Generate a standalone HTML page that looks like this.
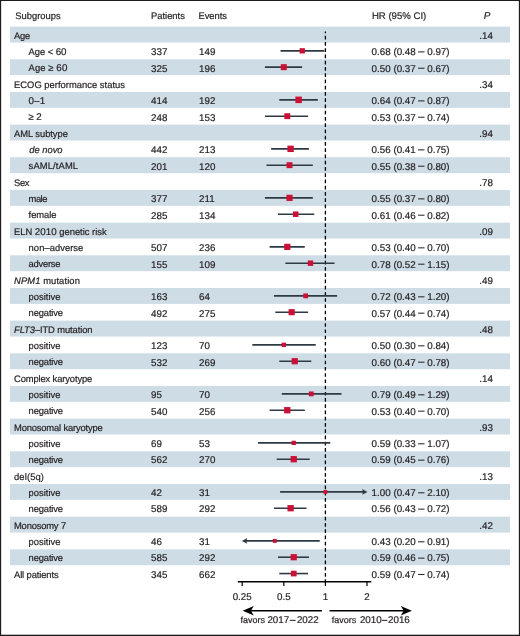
<!DOCTYPE html>
<html><head><meta charset="utf-8"><style>
html,body{margin:0;padding:0;background:#fff;}
svg{display:block;will-change:transform;}
text{text-rendering:geometricPrecision;font-family:"Liberation Sans",sans-serif;font-size:9.4px;fill:#231f20;stroke:#231f20;stroke-width:0.2px;}
text.n,tspan.n{font-size:9.8px;}
</style></head><body>
<svg width="520" height="636" viewBox="0 0 520 636">
<rect x="0" y="0" width="520" height="636" fill="#fff"/>

<rect x='10' y='26.60' width='500' height='15.9' fill='#cedce6'/>
<rect x='10' y='59.27' width='500' height='15.9' fill='#cedce6'/>
<rect x='10' y='91.94' width='500' height='15.9' fill='#cedce6'/>
<rect x='10' y='124.61' width='500' height='15.9' fill='#cedce6'/>
<rect x='10' y='157.28' width='500' height='15.9' fill='#cedce6'/>
<rect x='10' y='189.95' width='500' height='15.9' fill='#cedce6'/>
<rect x='10' y='222.62' width='500' height='15.9' fill='#cedce6'/>
<rect x='10' y='255.29' width='500' height='15.9' fill='#cedce6'/>
<rect x='10' y='287.96' width='500' height='15.9' fill='#cedce6'/>
<rect x='10' y='320.63' width='500' height='15.9' fill='#cedce6'/>
<rect x='10' y='353.30' width='500' height='15.9' fill='#cedce6'/>
<rect x='10' y='385.97' width='500' height='15.9' fill='#cedce6'/>
<rect x='10' y='418.64' width='500' height='15.9' fill='#cedce6'/>
<rect x='10' y='451.31' width='500' height='15.9' fill='#cedce6'/>
<rect x='10' y='483.98' width='500' height='15.9' fill='#cedce6'/>
<rect x='10' y='516.65' width='500' height='15.9' fill='#cedce6'/>
<rect x='10' y='549.32' width='500' height='15.9' fill='#cedce6'/>
<text x='15.3' y='18.55'>Subgroups</text>
<text x='151.0' y='18.55'>Patients</text>
<text x='198.4' y='18.55'>Events</text>
<text x='371.90000000000003' y='18.55' style='font-size:9.6px'>HR (95% CI)</text>
<text x='483.8' y='18.55' font-style='italic' style='font-size:9.9px'>P</text>
<line x1='325.4' y1='31.5' x2='325.4' y2='581' stroke='#000' stroke-width='1.3' stroke-dasharray='3.7 2.547' stroke-dashoffset='1.95'/>
<text class='lb' x='14.0' y='38.61' textLength='16.19' lengthAdjust='spacing'>Age</text>
<text class='n' x='479.3' y='38.91'>.14</text>
<text class='lb' x='28.6' y='54.94' textLength='37.88' lengthAdjust='spacing'>Age &lt; <tspan class='n'>60</tspan></text>
<text class='n' x='151.0' y='55.24'>337</text>
<text class='n' x='199.0' y='55.24'>149</text>
<text class='n' x='371.6' y='55.24'>0.68 (0.48</text>
<rect x='418.10' y='51.39' width='6.4' height='1.0' fill='#231f20'/>
<text class='n' x='427.25' y='55.24'>0.97)</text>
<line x1='281.35' y1='50.84' x2='323.57' y2='50.84' stroke='#2e3a43' stroke-width='1.6' stroke-linecap='square'/>
<rect x='299.60' y='48.19' width='5.3' height='5.3' fill='#cc0f35'/>
<text class='lb' x='28.6' y='71.27' textLength='38.75' lengthAdjust='spacing'>Age ≥ <tspan class='n'>60</tspan></text>
<text class='n' x='151.0' y='71.57'>325</text>
<text class='n' x='199.0' y='71.57'>196</text>
<text class='n' x='371.6' y='71.57'>0.50 (0.37</text>
<rect x='418.10' y='67.72' width='6.4' height='1.0' fill='#231f20'/>
<text class='n' x='427.25' y='71.57'>0.67)</text>
<line x1='265.73' y1='67.17' x2='301.36' y2='67.17' stroke='#2e3a43' stroke-width='1.6' stroke-linecap='square'/>
<rect x='280.80' y='64.17' width='6.0' height='6.0' fill='#cc0f35'/>
<text class='lb' x='14.0' y='87.60' textLength='110.97' lengthAdjust='spacing'>ECOG performance status</text>
<text class='n' x='479.3' y='87.90'>.34</text>
<text class='lb' x='28.6' y='103.93' textLength='16.52' lengthAdjust='spacing'><tspan class='n'>0</tspan>–<tspan class='n'>1</tspan></text>
<text class='n' x='151.0' y='104.23'>414</text>
<text class='n' x='199.0' y='104.23'>192</text>
<text class='n' x='371.6' y='104.23'>0.64 (0.47</text>
<rect x='418.10' y='100.38' width='6.4' height='1.0' fill='#231f20'/>
<text class='n' x='427.25' y='104.23'>0.87)</text>
<line x1='280.09' y1='99.84' x2='317.04' y2='99.84' stroke='#2e3a43' stroke-width='1.6' stroke-linecap='square'/>
<rect x='295.37' y='96.59' width='6.5' height='6.5' fill='#cc0f35'/>
<text class='lb' x='28.6' y='120.26'>≥ <tspan class='n'>2</tspan></text>
<text class='n' x='151.0' y='120.56'>248</text>
<text class='n' x='199.0' y='120.56'>153</text>
<text class='n' x='371.6' y='120.56'>0.53 (0.37</text>
<rect x='418.10' y='116.71' width='6.4' height='1.0' fill='#231f20'/>
<text class='n' x='427.25' y='120.56'>0.74)</text>
<line x1='265.73' y1='116.18' x2='307.33' y2='116.18' stroke='#2e3a43' stroke-width='1.6' stroke-linecap='square'/>
<rect x='284.35' y='113.23' width='5.8999999999999995' height='5.8999999999999995' fill='#cc0f35'/>
<text class='lb' x='14.0' y='136.59' textLength='53.88' lengthAdjust='spacing'>AML subtype</text>
<text class='n' x='479.3' y='136.89'>.94</text>
<text class='lb' x='29.200000000000003' y='152.92'><tspan font-style='italic'>de novo</tspan></text>
<text class='n' x='151.0' y='153.22'>442</text>
<text class='n' x='199.0' y='153.22'>213</text>
<text class='n' x='371.6' y='153.22'>0.56 (0.41</text>
<rect x='418.10' y='149.37' width='6.4' height='1.0' fill='#231f20'/>
<text class='n' x='427.25' y='153.22'>0.75)</text>
<line x1='271.89' y1='148.84' x2='308.13' y2='148.84' stroke='#2e3a43' stroke-width='1.6' stroke-linecap='square'/>
<rect x='287.40' y='145.65' width='6.3999999999999995' height='6.3999999999999995' fill='#cc0f35'/>
<text class='lb' x='28.6' y='169.25' textLength='49.45' lengthAdjust='spacing'>sAML/tAML</text>
<text class='n' x='151.0' y='169.55'>201</text>
<text class='n' x='199.0' y='169.55'>120</text>
<text class='n' x='371.6' y='169.55'>0.55 (0.38</text>
<rect x='418.10' y='165.70' width='6.4' height='1.0' fill='#231f20'/>
<text class='n' x='427.25' y='169.55'>0.80)</text>
<line x1='267.33' y1='165.18' x2='312.01' y2='165.18' stroke='#2e3a43' stroke-width='1.6' stroke-linecap='square'/>
<rect x='286.57' y='162.23' width='5.8999999999999995' height='5.8999999999999995' fill='#cc0f35'/>
<text class='lb' x='14.0' y='185.58' textLength='15.41' lengthAdjust='spacing'>Sex</text>
<text class='n' x='479.3' y='185.88'>.78</text>
<text class='lb' x='28.6' y='201.91' textLength='18.83' lengthAdjust='spacing'>male</text>
<text class='n' x='151.0' y='202.21'>377</text>
<text class='n' x='199.0' y='202.21'>211</text>
<text class='n' x='371.6' y='202.21'>0.55 (0.37</text>
<rect x='418.10' y='198.36' width='6.4' height='1.0' fill='#231f20'/>
<text class='n' x='427.25' y='202.21'>0.80)</text>
<line x1='265.73' y1='197.85' x2='312.01' y2='197.85' stroke='#2e3a43' stroke-width='1.6' stroke-linecap='square'/>
<rect x='286.42' y='194.75' width='6.2' height='6.2' fill='#cc0f35'/>
<text class='lb' x='28.6' y='218.24' textLength='27.89' lengthAdjust='spacing'>female</text>
<text class='n' x='151.0' y='218.54'>285</text>
<text class='n' x='199.0' y='218.54'>134</text>
<text class='n' x='371.6' y='218.54'>0.61 (0.46</text>
<rect x='418.10' y='214.69' width='6.4' height='1.0' fill='#231f20'/>
<text class='n' x='427.25' y='218.54'>0.82)</text>
<line x1='278.80' y1='214.19' x2='313.49' y2='214.19' stroke='#2e3a43' stroke-width='1.6' stroke-linecap='square'/>
<rect x='292.98' y='211.44' width='5.5' height='5.5' fill='#cc0f35'/>
<text class='lb' x='14.0' y='234.57'>ELN <tspan class='n'>2010</tspan> genetic risk</text>
<text class='n' x='479.3' y='234.87'>.09</text>
<text class='lb' x='28.6' y='250.90' textLength='54.72' lengthAdjust='spacing'>non–adverse</text>
<text class='n' x='151.0' y='251.20'>507</text>
<text class='n' x='199.0' y='251.20'>236</text>
<text class='n' x='371.6' y='251.20'>0.53 (0.40</text>
<rect x='418.10' y='247.35' width='6.4' height='1.0' fill='#231f20'/>
<text class='n' x='427.25' y='251.20'>0.70)</text>
<line x1='270.41' y1='246.86' x2='303.99' y2='246.86' stroke='#2e3a43' stroke-width='1.6' stroke-linecap='square'/>
<rect x='284.20' y='243.76' width='6.2' height='6.2' fill='#cc0f35'/>
<text class='lb' x='28.6' y='267.23' textLength='31.86' lengthAdjust='spacing'>adverse</text>
<text class='n' x='151.0' y='267.53'>155</text>
<text class='n' x='199.0' y='267.53'>109</text>
<text class='n' x='371.6' y='267.53'>0.78 (0.52</text>
<rect x='418.10' y='263.68' width='6.4' height='1.0' fill='#231f20'/>
<text class='n' x='427.25' y='267.53'>1.15)</text>
<line x1='286.15' y1='263.19' x2='333.79' y2='263.19' stroke='#2e3a43' stroke-width='1.6' stroke-linecap='square'/>
<rect x='307.79' y='260.49' width='5.3999999999999995' height='5.3999999999999995' fill='#cc0f35'/>
<text class='lb' x='14.0' y='283.56' textLength='65.86' lengthAdjust='spacing'><tspan font-style='italic'>NPM1</tspan> mutation</text>
<text class='n' x='479.3' y='283.86'>.49</text>
<text class='lb' x='28.6' y='299.89'>positive</text>
<text class='n' x='151.0' y='300.19'>163</text>
<text class='n' x='199.0' y='300.19'>64</text>
<text class='n' x='371.6' y='300.19'>0.72 (0.43</text>
<rect x='418.10' y='296.34' width='6.4' height='1.0' fill='#231f20'/>
<text class='n' x='427.25' y='300.19'>1.20)</text>
<line x1='274.75' y1='295.86' x2='336.34' y2='295.86' stroke='#2e3a43' stroke-width='1.6' stroke-linecap='square'/>
<rect x='303.28' y='293.46' width='4.8' height='4.8' fill='#cc0f35'/>
<text class='lb' x='28.6' y='316.22' textLength='34.45' lengthAdjust='spacing'>negative</text>
<text class='n' x='151.0' y='316.52'>492</text>
<text class='n' x='199.0' y='316.52'>275</text>
<text class='n' x='371.6' y='316.52'>0.57 (0.44</text>
<rect x='418.10' y='312.67' width='6.4' height='1.0' fill='#231f20'/>
<text class='n' x='427.25' y='316.52'>0.74)</text>
<line x1='276.13' y1='312.19' x2='307.33' y2='312.19' stroke='#2e3a43' stroke-width='1.6' stroke-linecap='square'/>
<rect x='288.61' y='309.14' width='6.1' height='6.1' fill='#cc0f35'/>
<text class='lb' x='14.0' y='332.55' textLength='78.58' lengthAdjust='spacing'><tspan font-style='italic'>FLT3</tspan>–ITD mutation</text>
<text class='n' x='479.3' y='332.85'>.48</text>
<text class='lb' x='28.6' y='348.88'>positive</text>
<text class='n' x='151.0' y='349.18'>123</text>
<text class='n' x='199.0' y='349.18'>70</text>
<text class='n' x='371.6' y='349.18'>0.50 (0.30</text>
<rect x='418.10' y='345.33' width='6.4' height='1.0' fill='#231f20'/>
<text class='n' x='427.25' y='349.18'>0.84)</text>
<line x1='253.14' y1='344.87' x2='314.94' y2='344.87' stroke='#2e3a43' stroke-width='1.6' stroke-linecap='square'/>
<rect x='281.60' y='342.67' width='4.3999999999999995' height='4.3999999999999995' fill='#cc0f35'/>
<text class='lb' x='28.6' y='365.21' textLength='34.45' lengthAdjust='spacing'>negative</text>
<text class='n' x='151.0' y='365.51'>532</text>
<text class='n' x='199.0' y='365.51'>269</text>
<text class='n' x='371.6' y='365.51'>0.60 (0.47</text>
<rect x='418.10' y='361.66' width='6.4' height='1.0' fill='#231f20'/>
<text class='n' x='427.25' y='365.51'>0.78)</text>
<line x1='280.09' y1='361.20' x2='310.49' y2='361.20' stroke='#2e3a43' stroke-width='1.6' stroke-linecap='square'/>
<rect x='291.64' y='358.10' width='6.2' height='6.2' fill='#cc0f35'/>
<text class='lb' x='14.0' y='381.54' textLength='78.25' lengthAdjust='spacing'>Complex karyotype</text>
<text class='n' x='479.3' y='381.84'>.14</text>
<text class='lb' x='28.6' y='397.87'>positive</text>
<text class='n' x='151.0' y='398.17'>95</text>
<text class='n' x='199.0' y='398.17'>70</text>
<text class='n' x='371.6' y='398.17'>0.79 (0.49</text>
<rect x='418.10' y='394.32' width='6.4' height='1.0' fill='#231f20'/>
<text class='n' x='427.25' y='398.17'>1.29)</text>
<line x1='282.59' y1='393.87' x2='340.68' y2='393.87' stroke='#2e3a43' stroke-width='1.6' stroke-linecap='square'/>
<rect x='308.85' y='391.47' width='4.8' height='4.8' fill='#cc0f35'/>
<text class='lb' x='28.6' y='414.20' textLength='34.45' lengthAdjust='spacing'>negative</text>
<text class='n' x='151.0' y='414.50'>540</text>
<text class='n' x='199.0' y='414.50'>256</text>
<text class='n' x='371.6' y='414.50'>0.53 (0.40</text>
<rect x='418.10' y='410.65' width='6.4' height='1.0' fill='#231f20'/>
<text class='n' x='427.25' y='414.50'>0.70)</text>
<line x1='270.41' y1='410.21' x2='303.99' y2='410.21' stroke='#2e3a43' stroke-width='1.6' stroke-linecap='square'/>
<rect x='284.15' y='407.06' width='6.3' height='6.3' fill='#cc0f35'/>
<text class='lb' x='14.0' y='430.53' textLength='88.72' lengthAdjust='spacing'>Monosomal karyotype</text>
<text class='n' x='479.3' y='430.83'>.93</text>
<text class='lb' x='28.6' y='446.86'>positive</text>
<text class='n' x='151.0' y='447.16'>69</text>
<text class='n' x='199.0' y='447.16'>53</text>
<text class='n' x='371.6' y='447.16'>0.59 (0.33</text>
<rect x='418.10' y='443.31' width='6.4' height='1.0' fill='#231f20'/>
<text class='n' x='427.25' y='447.16'>1.07)</text>
<line x1='258.86' y1='442.88' x2='329.46' y2='442.88' stroke='#2e3a43' stroke-width='1.6' stroke-linecap='square'/>
<rect x='291.58' y='440.73' width='4.3' height='4.3' fill='#cc0f35'/>
<text class='lb' x='28.6' y='463.19' textLength='34.45' lengthAdjust='spacing'>negative</text>
<text class='n' x='151.0' y='463.49'>562</text>
<text class='n' x='199.0' y='463.49'>270</text>
<text class='n' x='371.6' y='463.49'>0.59 (0.45</text>
<rect x='418.10' y='459.64' width='6.4' height='1.0' fill='#231f20'/>
<text class='n' x='427.25' y='463.49'>0.76)</text>
<line x1='277.48' y1='459.21' x2='308.93' y2='459.21' stroke='#2e3a43' stroke-width='1.6' stroke-linecap='square'/>
<rect x='290.58' y='456.06' width='6.3' height='6.3' fill='#cc0f35'/>
<text class='lb' x='14.0' y='479.52' textLength='29.94' lengthAdjust='spacing'>del(5q)</text>
<text class='n' x='479.3' y='479.82'>.13</text>
<text class='lb' x='28.6' y='495.85'>positive</text>
<text class='n' x='151.0' y='496.15'>42</text>
<text class='n' x='199.0' y='496.15'>31</text>
<text class='n' x='371.6' y='496.15'>1.00 (0.47</text>
<rect x='418.10' y='492.30' width='6.4' height='1.0' fill='#231f20'/>
<text class='n' x='427.25' y='496.15'>2.10)</text>
<polygon points='367.50,491.88 362.20,489.08 363.00,491.88 362.20,494.68' fill='#2e3a43'/>
<line x1='280.09' y1='491.88' x2='363.50' y2='491.88' stroke='#2e3a43' stroke-width='1.6' stroke-linecap='butt'/>
<rect x='323.50' y='489.98' width='3.8' height='3.8' fill='#cc0f35'/>
<text class='lb' x='28.6' y='512.18' textLength='34.45' lengthAdjust='spacing'>negative</text>
<text class='n' x='151.0' y='512.48'>589</text>
<text class='n' x='199.0' y='512.48'>292</text>
<text class='n' x='371.6' y='512.48'>0.56 (0.43</text>
<rect x='418.10' y='508.63' width='6.4' height='1.0' fill='#231f20'/>
<text class='n' x='427.25' y='512.48'>0.72)</text>
<line x1='274.75' y1='508.22' x2='305.68' y2='508.22' stroke='#2e3a43' stroke-width='1.6' stroke-linecap='square'/>
<rect x='287.45' y='505.07' width='6.3' height='6.3' fill='#cc0f35'/>
<text class='lb' x='14.0' y='528.51' textLength='52.17' lengthAdjust='spacing'>Monosomy <tspan class='n'>7</tspan></text>
<text class='n' x='479.3' y='528.81'>.42</text>
<text class='lb' x='28.6' y='544.84'>positive</text>
<text class='n' x='151.0' y='545.14'>46</text>
<text class='n' x='199.0' y='545.14'>31</text>
<text class='n' x='371.6' y='545.14'>0.43 (0.20</text>
<rect x='418.10' y='541.29' width='6.4' height='1.0' fill='#231f20'/>
<text class='n' x='427.25' y='545.14'>0.91)</text>
<polygon points='241.90,540.88 247.20,538.09 246.40,540.88 247.20,543.68' fill='#2e3a43'/>
<line x1='245.70' y1='540.88' x2='319.74' y2='540.88' stroke='#2e3a43' stroke-width='1.6' stroke-linecap='butt'/>
<rect x='272.80' y='538.93' width='3.9' height='3.9' fill='#cc0f35'/>
<text class='lb' x='28.6' y='561.17' textLength='34.45' lengthAdjust='spacing'>negative</text>
<text class='n' x='151.0' y='561.47'>585</text>
<text class='n' x='199.0' y='561.47'>292</text>
<text class='n' x='371.6' y='561.47'>0.59 (0.46</text>
<rect x='418.10' y='557.62' width='6.4' height='1.0' fill='#231f20'/>
<text class='n' x='427.25' y='561.47'>0.75)</text>
<line x1='278.80' y1='557.22' x2='308.13' y2='557.22' stroke='#2e3a43' stroke-width='1.6' stroke-linecap='square'/>
<rect x='290.63' y='554.12' width='6.2' height='6.2' fill='#cc0f35'/>
<text class='lb' x='14.0' y='577.50' textLength='44.61' lengthAdjust='spacing'>All patients</text>
<text class='n' x='151.0' y='577.80'>345</text>
<text class='n' x='199.0' y='577.80'>662</text>
<text class='n' x='371.6' y='577.80'>0.59 (0.47</text>
<rect x='418.10' y='573.95' width='6.4' height='1.0' fill='#231f20'/>
<text class='n' x='427.25' y='577.80'>0.74)</text>
<line x1='280.09' y1='573.56' x2='307.33' y2='573.56' stroke='#2e3a43' stroke-width='1.6' stroke-linecap='square'/>
<rect x='290.88' y='570.71' width='5.7' height='5.7' fill='#cc0f35'/>
<line x1='237.8' y1='581.8' x2='371.3' y2='581.8' stroke='#000' stroke-width='1.5'/>
<line x1='242.20' y1='581.8' x2='242.20' y2='586' stroke='#000' stroke-width='1.2'/>
<text class='n' x='242.20' y='599.5' text-anchor='middle'>0.25</text>
<line x1='283.80' y1='581.8' x2='283.80' y2='586' stroke='#000' stroke-width='1.2'/>
<text class='n' x='283.80' y='599.5' text-anchor='middle'>0.5</text>
<line x1='325.40' y1='581.8' x2='325.40' y2='586' stroke='#000' stroke-width='1.2'/>
<text class='n' x='325.40' y='599.5' text-anchor='middle'>1</text>
<line x1='367.00' y1='581.8' x2='367.00' y2='586' stroke='#000' stroke-width='1.2'/>
<text class='n' x='367.00' y='599.5' text-anchor='middle'>2</text>
<line x1='250' y1='610.8' x2='321.9' y2='610.8' stroke='#000' stroke-width='1.6'/>
<polygon points='242.7,610.8 253.8,606.0 250.9,610.8 253.8,615.5999999999999' fill='#000'/>
<line x1='329.5' y1='610.8' x2='404' y2='610.8' stroke='#000' stroke-width='1.6'/>
<polygon points='411.9,610.8 400.8,606.0 403.7,610.8 400.8,615.5999999999999' fill='#000'/>
<text x='240.5' y='623.2' style='font-size:9.0px'>favors</text>
<text class='n' x='267.4' y='623.2'>2017</text>
<rect x='289.8' y='619.85' width='5.80' height='1.0' fill='#231f20'/>
<text class='n' x='296.9' y='623.2'>2022</text>
<text x='331.7' y='623.2' style='font-size:9.0px'>favors</text>
<text class='n' x='359.9' y='623.2'>2010</text>
<rect x='381.8' y='619.85' width='5.50' height='1.0' fill='#231f20'/>
<text class='n' x='388.0' y='623.2'>2016</text>
<rect x='0' y='0' width='520' height='1' fill='#1c1c1c'/>
<rect x='0' y='0' width='1' height='636' fill='#1c1c1c'/>
<rect x='1' y='1' width='0.15' height='634' fill='#1c1c1c'/>
<rect x='519' y='0' width='1' height='636' fill='#1c1c1c'/>
<rect x='518.85' y='0' width='0.15' height='636' fill='#1c1c1c'/>
<rect x='0' y='635' width='520' height='1' fill='#1c1c1c'/>
<rect x='0' y='634.7' width='520' height='0.3' fill='#1c1c1c'/>
</svg></body></html>
